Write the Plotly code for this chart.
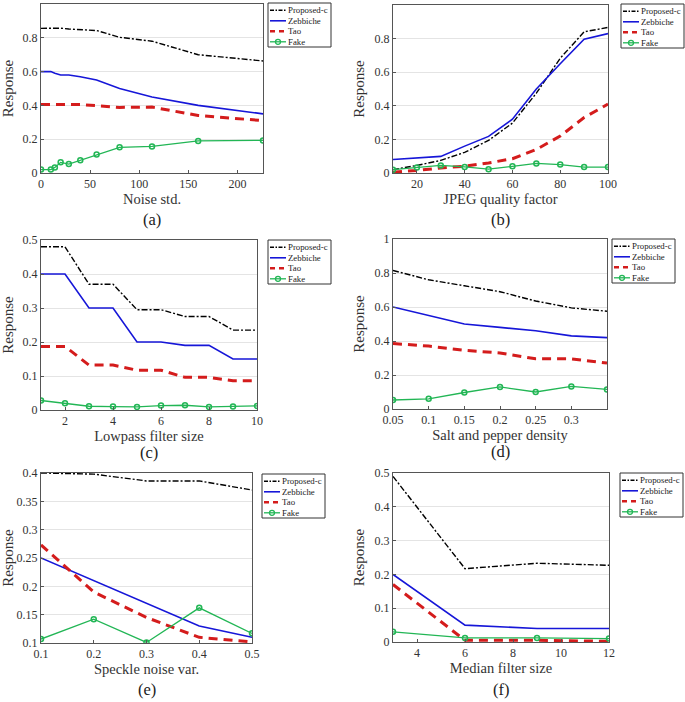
import plotly.graph_objects as go

W, H = 685, 702

# ---------------- data ----------------
# (a) Noise std.
a_x = [0, 10, 14.1, 20, 28.3, 40, 56.6, 80, 113, 160, 226]
a_prop = [0.856, 0.856, 0.857, 0.857, 0.852, 0.850, 0.843, 0.803, 0.780, 0.700, 0.663]
a_zeb = [0.600, 0.600, 0.590, 0.580, 0.580, 0.570, 0.550, 0.500, 0.450, 0.400, 0.350]
a_tao = [0.405, 0.405, 0.405, 0.405, 0.405, 0.405, 0.398, 0.388, 0.390, 0.340, 0.310]
a_fake = [0.020, 0.020, 0.033, 0.063, 0.053, 0.075, 0.110, 0.152, 0.157, 0.190, 0.193]

# (b) JPEG quality factor
b_x = [10, 20, 30, 40, 50, 60, 70, 80, 90, 100]
b_prop = [0.020, 0.045, 0.075, 0.123, 0.194, 0.297, 0.475, 0.683, 0.840, 0.867]
b_zeb = [0.080, 0.090, 0.099, 0.160, 0.218, 0.320, 0.500, 0.650, 0.796, 0.830]
b_tao = [0.005, 0.015, 0.030, 0.040, 0.060, 0.085, 0.140, 0.220, 0.330, 0.410]
b_fake = [0.020, 0.032, 0.045, 0.036, 0.023, 0.040, 0.057, 0.050, 0.035, 0.035]

# (c) Lowpass filter size
c_x = [1, 2, 3, 4, 5, 6, 7, 8, 9, 10]
c_prop = [0.480, 0.480, 0.370, 0.370, 0.295, 0.295, 0.275, 0.275, 0.235, 0.235]
c_zeb = [0.400, 0.400, 0.300, 0.300, 0.200, 0.200, 0.190, 0.190, 0.150, 0.150]
c_tao = [0.187, 0.187, 0.132, 0.132, 0.117, 0.117, 0.096, 0.096, 0.086, 0.086]
c_fake = [0.028, 0.020, 0.011, 0.010, 0.009, 0.013, 0.014, 0.009, 0.010, 0.012]

# (d) Salt and pepper density
d_x = [0.05, 0.10, 0.15, 0.20, 0.25, 0.30, 0.35]
d_prop = [0.815, 0.760, 0.725, 0.690, 0.635, 0.595, 0.575]
d_zeb = [0.600, 0.550, 0.500, 0.480, 0.460, 0.430, 0.420]
d_tao = [0.385, 0.370, 0.345, 0.330, 0.295, 0.295, 0.270]
d_fake = [0.053, 0.060, 0.097, 0.130, 0.100, 0.133, 0.115]

# (e) Speckle noise var.
e_x = [0.1, 0.2, 0.3, 0.4, 0.5]
e_prop = [0.400, 0.398, 0.386, 0.386, 0.370]
e_zeb = [0.250, 0.210, 0.170, 0.130, 0.110]
e_tao = [0.273, 0.190, 0.145, 0.110, 0.102]
e_fake = [0.107, 0.142, 0.101, 0.162, 0.117]

# (f) Median filter size
f_x = [3, 6, 9, 12]
f_prop = [0.490, 0.217, 0.233, 0.227]
f_zeb = [0.200, 0.050, 0.040, 0.040]
f_tao = [0.170, 0.005, 0.005, 0.002]
f_fake = [0.030, 0.012, 0.012, 0.010]

names = ["Proposed-c", "Zebbiche", "Tao", "Fake"]

panels = [
    dict(x=a_x, ys=[a_prop, a_zeb, a_tao, a_fake], xr=[0, 226], yr=[0, 1],
         xt=[0, 50, 100, 150, 200], yt=[0, 0.2, 0.4, 0.6, 0.8, 1],
         xlab="Noise std.", cap="(a)", box=(41, 263, 4, 173), leg=(268, 3), capy=220),
    dict(x=b_x, ys=[b_prop, b_zeb, b_tao, b_fake], xr=[10, 100], yr=[0, 1],
         xt=[20, 40, 60, 80, 100], yt=[0, 0.2, 0.4, 0.6, 0.8, 1],
         xlab="JPEG quality factor", cap="(b)", box=(393, 608, 5, 173), leg=(621, 4), capy=220),
    dict(x=c_x, ys=[c_prop, c_zeb, c_tao, c_fake], xr=[1, 10], yr=[0, 0.5],
         xt=[2, 4, 6, 8, 10], yt=[0, 0.1, 0.2, 0.3, 0.4, 0.5],
         xlab="Lowpass filter size", cap="(c)", box=(41, 257, 240, 410), leg=(268, 240), capy=452),
    dict(x=d_x, ys=[d_prop, d_zeb, d_tao, d_fake], xr=[0.05, 0.35], yr=[0, 1],
         xt=[0.05, 0.1, 0.15, 0.2, 0.25, 0.3], yt=[0, 0.2, 0.4, 0.6, 0.8, 1],
         xlab="Salt and pepper density", cap="(d)", box=(393, 607, 239, 409), leg=(612, 239), capy=451),
    dict(x=e_x, ys=[e_prop, e_zeb, e_tao, e_fake], xr=[0.1, 0.5], yr=[0.1, 0.4],
         xt=[0.1, 0.2, 0.3, 0.4, 0.5], yt=[0.1, 0.15, 0.2, 0.25, 0.3, 0.35, 0.4],
         xlab="Speckle noise var.", cap="(e)", box=(41, 252, 473, 643), leg=(262, 474), capy=689),
    dict(x=f_x, ys=[f_prop, f_zeb, f_tao, f_fake], xr=[3, 12], yr=[0, 0.5],
         xt=[4, 6, 8, 10, 12], yt=[0, 0.1, 0.2, 0.3, 0.4, 0.5],
         xlab="Median filter size", cap="(f)", box=(393, 609, 473, 642), leg=(620, 473), capy=689),
]

COLORS = ["black", "#1616d8", "#d41c1c", "#22b655"]
DASHES = ["6px,2px,2px,2px", "solid", "9px,6px", "solid"]
WIDTHS = [1.4, 1.6, 3, 1.3]

FONT = "Liberation Serif, Times New Roman, serif"
fig = go.Figure()
layout = dict(width=W, height=H, margin=dict(l=0, r=0, t=0, b=0),
              paper_bgcolor="white", plot_bgcolor="white",
              font=dict(family=FONT, color="#222", size=12), showlegend=False)
annotations = []
shapes = []


def px(x):
    return x / W


def py(y):
    return 1 - y / H


for i, p in enumerate(panels):
    k = i + 1
    xa = "x" if k == 1 else f"x{k}"
    ya = "y" if k == 1 else f"y{k}"
    for j, (nm, yv) in enumerate(zip(names, p["ys"])):
        kw = dict(mode="lines", line=dict(color=COLORS[j], width=WIDTHS[j], dash=DASHES[j]))
        if nm == "Fake":
            kw = dict(mode="lines+markers", line=dict(color=COLORS[j], width=WIDTHS[j]),
                      marker=dict(symbol="circle-open", size=5, color=COLORS[j], line=dict(width=1.5)))
        fig.add_trace(go.Scatter(x=p["x"], y=yv, name=nm, xaxis=xa, yaxis=ya, **kw))
    x0, x1, y0, y1 = p["box"]
    axkw = dict(showline=True, mirror=True, linecolor="#555", linewidth=1,
                ticks="inside", ticklen=3, tickcolor="#555", automargin=False,
                tickfont=dict(family=FONT, size=12, color="#333"), zeroline=False)
    layout["xaxis" if k == 1 else f"xaxis{k}"] = dict(
        domain=[px(x0), px(x1)], range=p["xr"], tickvals=p["xt"], showgrid=False,
        anchor=ya, title=dict(text=p["xlab"], font=dict(family=FONT, size=14.5, color="#333"), standoff=3),
        **axkw)
    layout["yaxis" if k == 1 else f"yaxis{k}"] = dict(
        domain=[py(y1), py(y0)], range=p["yr"], tickvals=p["yt"], showgrid=True,
        gridcolor="#e4e4e4", gridwidth=1, anchor=xa,
        title=dict(text="Response", font=dict(family=FONT, size=15, color="#333"), standoff=6),
        **axkw)
    # caption
    annotations.append(dict(text=p["cap"], x=px((x0 + x1) / 2), y=py(p["capy"]),
                            xref="paper", yref="paper", showarrow=False,
                            font=dict(family=FONT, size=16.5, color="#222"),
                            xanchor="center", yanchor="middle"))
    # legend box (MATLAB style)
    lx, ly = p["leg"]
    lw, lh = 63, 44
    shapes.append(dict(type="rect", xref="paper", yref="paper",
                       x0=px(lx), x1=px(lx + lw), y0=py(ly + lh), y1=py(ly),
                       line=dict(color="#333", width=1), fillcolor="white", layer="above"))
    for j, nm in enumerate(names):
        ry = ly + 7.3 + j * 10.5
        shapes.append(dict(type="line", xref="paper", yref="paper",
                           x0=px(lx + 2), x1=px(lx + 18), y0=py(ry), y1=py(ry),
                           line=dict(color=COLORS[j], width=min(WIDTHS[j], 2.5),
                                     dash=("4px,1.5px,1.5px,1.5px" if j == 0 else
                                           ("5px,4px" if j == 2 else "solid"))),
                           layer="above"))
        if nm == "Fake":
            shapes.append(dict(type="circle", xref="paper", yref="paper",
                               x0=px(lx + 7.5), x1=px(lx + 12.5), y0=py(ry + 2.5), y1=py(ry - 2.5),
                               line=dict(color=COLORS[j], width=1.3), layer="above"))
        annotations.append(dict(text=nm, x=px(lx + 18), y=py(ry), xref="paper", yref="paper",
                                showarrow=False, xanchor="left", yanchor="middle",
                                font=dict(family=FONT, size=8.8, color="#222")))

layout["annotations"] = annotations
layout["shapes"] = shapes
fig.update_layout(**layout)
fig.write_html("out.html", config={"displayModeBar": False, "staticPlot": True},
               post_script="document.body.style.margin='0';document.body.style.overflow='hidden';")
